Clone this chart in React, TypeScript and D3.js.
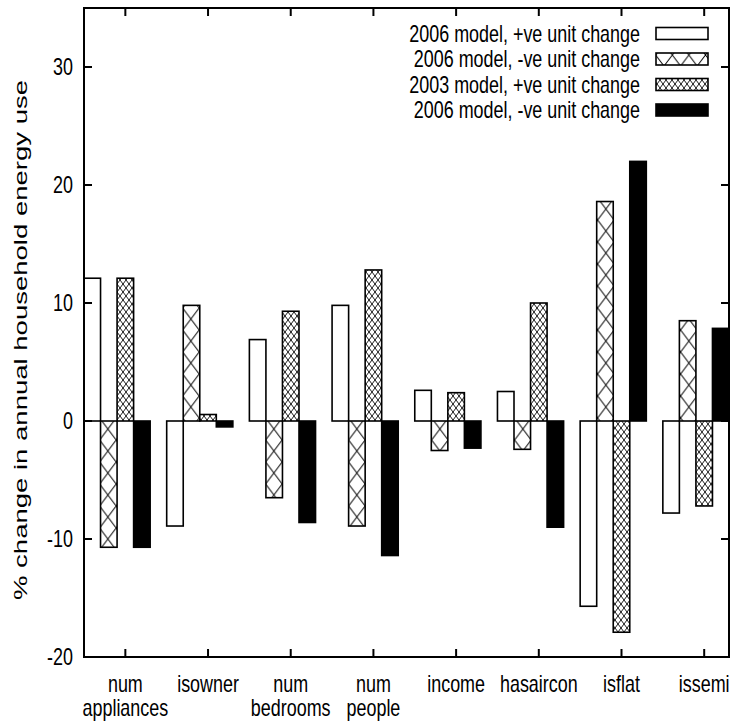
import React from "react";
import * as d3 from "d3";

// categories (two-line labels split on \n)
const categories = [
  "num\nappliances",
  "isowner",
  "num\nbedrooms",
  "num\npeople",
  "income",
  "hasaircon",
  "isflat",
  "issemi",
];

const seriesNames = [
  "2006 model, +ve unit change",
  "2006 model, -ve unit change",
  "2003 model, +ve unit change",
  "2006 model, -ve unit change",
];

const pos2006 = [12.1, -8.9, 6.9, 9.8, 2.6, 2.5, -15.7, -7.8];
const neg2006 = [-10.7, 9.8, -6.5, -8.9, -2.5, -2.4, 18.6, 8.5];
const pos2003 = [12.1, 0.55, 9.3, 12.8, 2.4, 10.0, -17.9, -7.2];
const neg2006b = [-10.7, -0.5, -8.6, -11.4, -2.3, -9.0, 22.0, 7.85];

const yTicks = [-20, -10, 0, 10, 20, 30];

const fills = ["#ffffff", "url(#sparseX)", "url(#denseX)", "#000000"];
const allSeries = [pos2006, neg2006, pos2003, neg2006b];

const W = 733;
const H = 724;
const FONT = "'Liberation Sans', Arial, Helvetica, sans-serif";
const SX = 0.78; // narrow-looking glyphs of the original

const App = () => {
  const x = d3.scaleLinear().domain([-0.5, 7.3]).range([84, 729]);
  const y = d3.scaleLinear().domain([-20, 35]).range([657, 8]);
  const barW = 0.2;
  const tickLen = 8;
  const [x0, x1] = x.range();
  const [y0, y1] = y.range();

  const txt = (tx, ty, s, anchor, key?) => (
    <text
      key={key}
      transform={`translate(${tx},${ty}) scale(${SX},1)`}
      textAnchor={anchor}
      fontSize={23}
      fontFamily={FONT}
      fill="#000"
    >
      {s}
    </text>
  );

  return (
    <svg
      width={W}
      height={H}
      style={{ position: "absolute", left: 0, top: 0, background: "#fff" }}
    >
      <defs>
        <pattern id="sparseX" patternUnits="userSpaceOnUse" width={16.6} height={22}>
          <rect width={16.6} height={22} fill="#fff" />
          <path d="M0,0L16.6,22M16.6,0L0,22" stroke="#000" strokeWidth={1} />
        </pattern>
        <pattern id="denseX" patternUnits="userSpaceOnUse" width={6} height={8}>
          <rect width={6} height={8} fill="#fff" />
          <path d="M0,0L6,8M6,0L0,8" stroke="#000" strokeWidth={0.9} />
        </pattern>
        <clipPath id="plotClip">
          <rect x={x0} y={y1} width={x1 - x0} height={y0 - y1} />
        </clipPath>
      </defs>

      {/* bars */}
      <g clipPath="url(#plotClip)">
        {allSeries.map((vals, s) =>
          vals.map((v, i) => {
            const left = x(i - 0.5 + s * barW);
            const right = x(i - 0.5 + (s + 1) * barW);
            const top = y(Math.max(v, 0));
            const bot = y(Math.min(v, 0));
            return (
              <rect
                key={`${s}-${i}`}
                x={left}
                y={top}
                width={right - left}
                height={bot - top}
                fill={fills[s]}
                stroke="#000"
                strokeWidth={1.6}
              />
            );
          })
        )}
      </g>

      {/* frame */}
      <rect
        x={x0}
        y={y1}
        width={x1 - x0}
        height={y0 - y1}
        fill="none"
        stroke="#000"
        strokeWidth={2}
      />

      {/* y ticks, mirrored */}
      {yTicks.map((t) => (
        <g key={`yt${t}`}>
          <line x1={x0} x2={x0 + tickLen} y1={y(t)} y2={y(t)} stroke="#000" strokeWidth={2} />
          <line x1={x1} x2={x1 - tickLen} y1={y(t)} y2={y(t)} stroke="#000" strokeWidth={2} />
          {txt(73, y(t) + 8.3, String(t), "end")}
        </g>
      ))}

      {/* x ticks, mirrored */}
      {categories.map((c, i) => (
        <g key={`xt${i}`}>
          <line x1={x(i)} x2={x(i)} y1={y0} y2={y0 - tickLen} stroke="#000" strokeWidth={2} />
          <line x1={x(i)} x2={x(i)} y1={y1} y2={y1 + tickLen} stroke="#000" strokeWidth={2} />
          {c.split("\n").map((line, k) => txt(x(i), 692 + k * 23.5, line, "middle", k))}
        </g>
      ))}

      {/* y label */}
      <text
        transform={`translate(27,340) rotate(-90)`}
        textAnchor="middle"
        fontSize={19}
        fontFamily={FONT}
        textLength={520}
        lengthAdjust="spacingAndGlyphs"
      >
        % change in annual household energy use
      </text>

      {/* legend */}
      {seriesNames.map((name, s) => {
        const cy = 33.5 + s * 25.5;
        return (
          <g key={`lg${s}`}>
            {txt(640, cy + 8, name, "end")}
            <rect
              x={656}
              y={cy - 6}
              width={52}
              height={12}
              fill={fills[s]}
              stroke="#000"
              strokeWidth={1.6}
            />
          </g>
        );
      })}
    </svg>
  );
};

export default App;
